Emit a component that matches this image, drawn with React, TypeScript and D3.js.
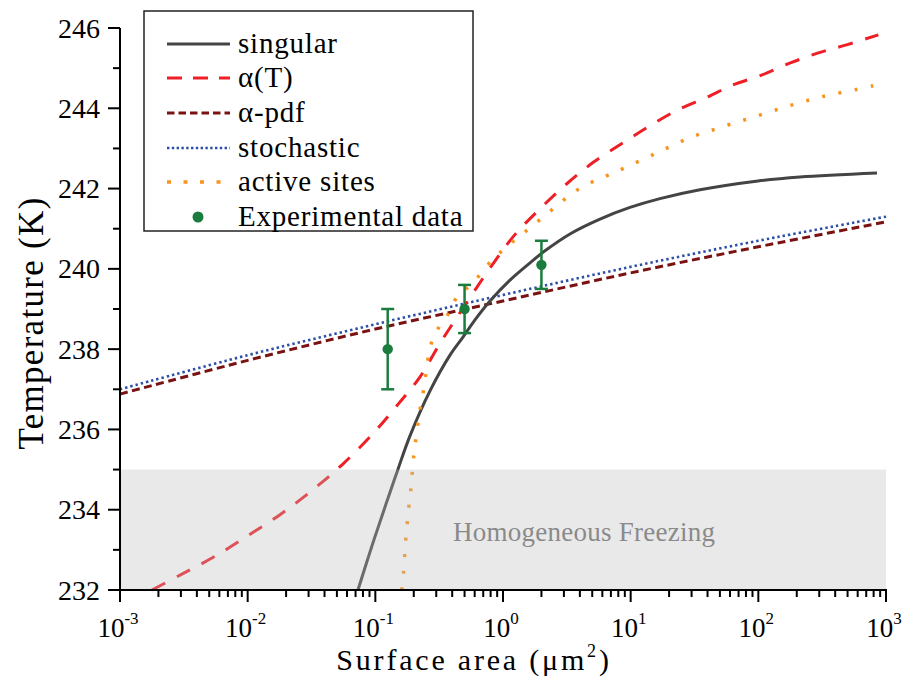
import React, { useEffect } from "react";
import * as d3 from "d3";

// ---------- data ----------
const singularArea = [0.0731, 0.0941, 0.1212, 0.1505, 0.1868, 0.2681, 0.3844, 0.486, 0.6034, 0.7908, 1.134, 1.627, 2.133, 3.347, 5.752, 9.879, 16.97, 34.91, 99.4, 212, 850];
const singularT = [232.0, 233.1, 234.14, 235.01, 235.84, 236.96, 237.85, 238.3, 238.73, 239.2, 239.72, 240.15, 240.45, 240.87, 241.24, 241.53, 241.75, 241.97, 242.19, 242.29, 242.39];

const alphaTArea = [0.00178, 0.00316, 0.00562, 0.01, 0.0178, 0.0316, 0.0562, 0.1, 0.151, 0.224, 0.316, 0.437, 0.603, 0.832, 1.23, 1.91, 3.16, 5.13, 8.71, 14.1, 23.4, 39.8, 63.1, 107, 178, 295, 490, 871];
const alphaTT = [232.0, 232.42, 232.85, 233.35, 233.87, 234.47, 235.15, 235.96, 236.63, 237.31, 238.11, 238.8, 239.47, 240.12, 240.84, 241.47, 242.12, 242.66, 243.14, 243.56, 243.96, 244.28, 244.58, 244.83, 245.13, 245.38, 245.58, 245.83];

const alphaPdfArea = [0.001, 0.01, 0.1, 1, 10, 100, 1000];
const alphaPdfT = [236.88, 237.72, 238.5, 239.2, 239.9, 240.55, 241.17];

const stochasticArea = [0.001, 0.01, 0.1, 1, 10, 100, 1000];
const stochasticT = [237.0, 237.85, 238.62, 239.35, 240.05, 240.7, 241.3];

const activeArea = [0.161, 0.166, 0.173, 0.182, 0.191, 0.197, 0.204, 0.213, 0.221, 0.234, 0.245, 0.255, 0.269, 0.305, 0.372, 0.437, 0.575, 0.813, 1.07, 1.46, 1.97, 2.66, 3.63, 4.9, 6.61, 8.91, 15.8, 28.8, 52.5, 97.7, 178, 316, 589, 794];
const activeT = [232.0, 232.4, 233.25, 234.0, 234.6, 235.14, 235.57, 236.0, 236.4, 236.82, 237.23, 237.63, 238.06, 238.47, 238.88, 239.3, 239.64, 240.2, 240.55, 240.9, 241.24, 241.58, 241.92, 242.15, 242.33, 242.51, 242.88, 243.26, 243.54, 243.81, 244.07, 244.29, 244.47, 244.56];

const expArea = [0.125, 0.5, 2.0];
const expT = [238.0, 239.0, 240.1];
const expErr = [1.0, 0.6, 0.6];

const yTicks = [232, 234, 236, 238, 240, 242, 244, 246];
const yMinorTicks = [233, 235, 237, 239, 241, 243, 245];
const xTickExponents = [-3, -2, -1, 0, 1, 2, 3];

const homogeneousBand = [232, 235];

const legendLabels = ["singular", "α(T)", "α-pdf", "stochastic", "active sites", "Experimental data"];

// ---------- layout ----------
const W = 906, H = 678;
const X0 = 120, X1 = 886, Y0 = 590, Y1 = 28;
const FONT = "'Liberation Serif', 'Times New Roman', serif";

export default function App() {
  useEffect(() => {
    document.body.style.margin = "0";
  }, []);

  const x = d3.scaleLog().domain([1e-3, 1e3]).range([X0, X1]);
  const y = d3.scaleLinear().domain([232, 246]).range([Y0, Y1]);

  const line = (xs: number[], ys: number[]) =>
    d3.line<number>().x((_, i) => x(xs[i])).y((_, i) => y(ys[i])).curve(d3.curveCatmullRom.alpha(0.5))(xs.map((_, i) => i)) || "";

  const minorX: number[] = [];
  for (let e = -3; e < 3; e++) for (let m = 2; m <= 9; m++) minorX.push(m * Math.pow(10, e));

  const series = [
    { d: line(alphaPdfArea, alphaPdfT), stroke: "#7a1212", w: 3, dash: "8,4.5" },
    { d: line(stochasticArea, stochasticT), stroke: "#2b4ea6", w: 2.6, dash: "2.4,3" },
    { d: line(singularArea, singularT), stroke: "#444444", w: 3, dash: undefined },
    { d: line(alphaTArea, alphaTT), stroke: "#ee1f26", w: 3, dash: "15,13" },
    { d: line(activeArea, activeT), stroke: "#f7941d", w: 3.5, dash: "3,13.5" },
  ];

  const legendRows = [44, 78, 113, 148, 182, 217];
  const legendStyles = [
    { stroke: "#444444", w: 3, dash: undefined as string | undefined },
    { stroke: "#ee1f26", w: 3, dash: "15,11" },
    { stroke: "#7a1212", w: 3, dash: "7.5,4" },
    { stroke: "#2b4ea6", w: 2.6, dash: "2.4,2.4" },
    { stroke: "#f7941d", w: 3.5, dash: "4,12.5" },
  ];
  const green = "#1a7d3d";
  const tf = { fontFamily: FONT };

  return (
    <svg width={W} height={H} style={{ display: "block", background: "#fff" }} fontFamily={FONT}>
      {/* series */}
      {series.map((s, i) => (
        <path key={i} d={s.d} fill="none" stroke={s.stroke} strokeWidth={s.w} strokeDasharray={s.dash} />
      ))}
      {/* experimental data */}
      {expArea.map((a, i) => {
        const cx = x(a);
        return (
          <g key={i} stroke={green} strokeWidth={2.5}>
            <line x1={cx} x2={cx} y1={y(expT[i] - expErr[i])} y2={y(expT[i] + expErr[i])} />
            <line x1={cx - 6.5} x2={cx + 6.5} y1={y(expT[i] - expErr[i])} y2={y(expT[i] - expErr[i])} />
            <line x1={cx - 6.5} x2={cx + 6.5} y1={y(expT[i] + expErr[i])} y2={y(expT[i] + expErr[i])} />
            <circle cx={cx} cy={y(expT[i])} r={5.2} fill={green} stroke="none" />
          </g>
        );
      })}
      {/* homogeneous freezing band */}
      <rect x={X0} y={y(homogeneousBand[1])} width={X1 - X0} height={y(homogeneousBand[0]) - y(homogeneousBand[1])}
        fill="#bcbcbc" fillOpacity={0.33} />
      <text x={453} y={541} fontSize={27} fill="#8a8a8a" letterSpacing={0.25} style={tf}>Homogeneous Freezing</text>

      {/* axes */}
      <g stroke="#000" strokeWidth={2}>
        <line x1={X0} x2={X0} y1={Y1} y2={Y0 + 1} />
        <line x1={X0 - 1} x2={X1 + 1} y1={Y0} y2={Y0} />
        {yTicks.map((t) => <line key={"yt" + t} x1={X0 - 12} x2={X0} y1={y(t)} y2={y(t)} />)}
        {yMinorTicks.map((t) => <line key={"ym" + t} x1={X0 - 7} x2={X0} y1={y(t)} y2={y(t)} />)}
        {xTickExponents.map((e) => <line key={"xt" + e} x1={x(Math.pow(10, e))} x2={x(Math.pow(10, e))} y1={Y0} y2={Y0 + 12} />)}
        {minorX.map((v, i) => <line key={"xm" + i} x1={x(v)} x2={x(v)} y1={Y0} y2={Y0 + 7} />)}
      </g>
      {yTicks.map((t) => (
        <text key={"yl" + t} x={100} y={y(t)} fontSize={28} textAnchor="end" dominantBaseline="central" fill="#000" style={tf}>{t}</text>
      ))}
      {xTickExponents.map((e) => (
        <text key={"xl" + e} x={x(Math.pow(10, e)) - 2} y={637} fontSize={27} textAnchor="middle" fill="#000" style={tf}>
          10<tspan fontSize={17} dy={-13}>{e}</tspan>
        </text>
      ))}
      <text x={474} y={670} fontSize={30} textAnchor="middle" fill="#000" letterSpacing={2.8} style={tf}>
        Surface area (μm<tspan fontSize={18} dy={-13}>2</tspan><tspan dy={13}>)</tspan>
      </text>
      <text transform={`translate(43,${323}) rotate(-90)`} fontSize={35} textAnchor="middle" fill="#000" letterSpacing={1.3} style={tf}>Temperature (K)</text>

      {/* legend */}
      <rect x={144} y={11} width={329} height={220} fill="#fff" stroke="#222" strokeWidth={1.5} />
      {legendStyles.map((s, i) => (
        <line key={"ll" + i} x1={167} x2={230} y1={legendRows[i]} y2={legendRows[i]} stroke={s.stroke} strokeWidth={s.w} strokeDasharray={s.dash} />
      ))}
      <circle cx={198} cy={legendRows[5]} r={5.5} fill={green} />
      {legendLabels.map((l, i) => (
        <text key={"lt" + i} x={238} y={legendRows[i] + 9} fontSize={29} fill="#000" letterSpacing={0.8} style={tf}>{l}</text>
      ))}
    </svg>
  );
}
